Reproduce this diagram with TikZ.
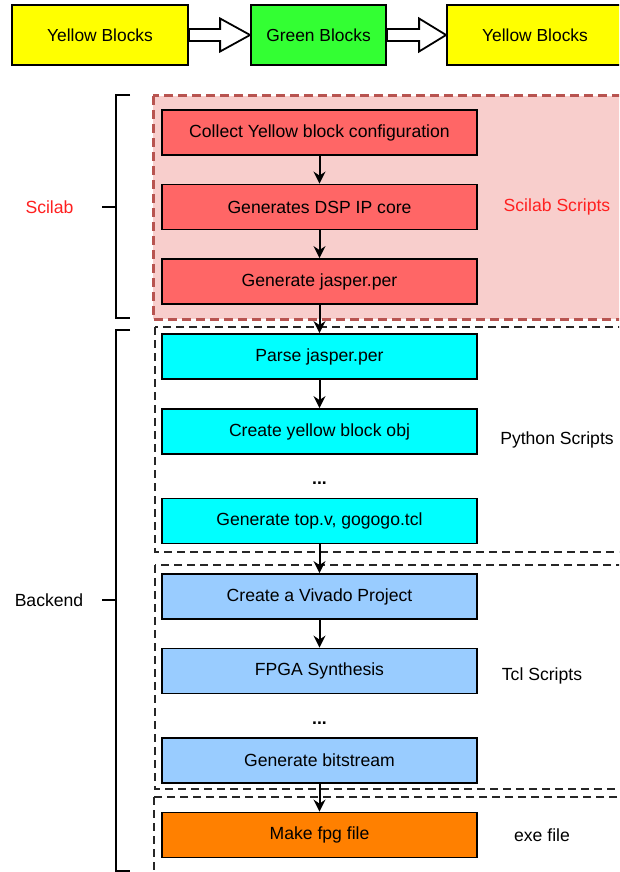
\documentclass[tikz,border=0pt]{standalone}
\usepackage{fontspec}
\setmainfont{Liberation Sans}
\usetikzlibrary{arrows.meta,calc}
\definecolor{cyel}{HTML}{FFFF00}
\definecolor{cgrn}{HTML}{33FF33}
\definecolor{cred}{HTML}{FF6666}
\definecolor{cpink}{HTML}{F8CECC}
\definecolor{cpinkline}{HTML}{B85450}
\definecolor{ccyan}{HTML}{00FFFF}
\definecolor{cblue}{HTML}{99CCFF}
\definecolor{corange}{HTML}{FF8000}
\definecolor{ctxtred}{HTML}{FF2020}
\tikzset{
  topbox/.style={draw=black, line width=1.8pt, minimum height=60pt, inner sep=0pt, font=\fontsize{17.4}{20}\selectfont},
  stepbox/.style={draw=black, line width=1.8pt, minimum width=315pt, minimum height=45pt, inner sep=0pt, font=\fontsize{17.6}{20}\selectfont},
  lbl/.style={inner sep=0pt, font=\fontsize{17.6}{20}\selectfont},
  dotlbl/.style={inner sep=0pt, font=\fontsize{17.6}{20}\selectfont\bfseries, anchor=base},
  flow/.style={line width=2pt, -{Stealth[length=12pt,width=12pt,inset=4pt]}},
  blockarrow/.style={draw=black, fill=white, line width=1.8pt, line join=miter},
  bracket/.style={line width=2.4pt, line join=miter},
  groupbox/.style={draw=black!85, line width=1.8pt, dash pattern=on 8pt off 5pt},
  redgroup/.style={draw=cpinkline, fill=cpink, line width=3pt, dash pattern=on 9pt off 5pt}
}
\begin{document}
\begin{tikzpicture}[x=1pt,y=-1pt]
\useasboundingbox (0,0) rectangle (619,872);
\clip (0,0) rectangle (619,872);
\fill[white] (0,0) rectangle (619,872);

% top row
\node[topbox, fill=cyel, minimum width=176pt] (y1) at (100,35) {Yellow Blocks};
\node[topbox, fill=cgrn, minimum width=135pt] (g1) at (318.5,35) {Green Blocks};
\node[topbox, fill=cyel, minimum width=176pt] (y2) at (535,35) {Yellow Blocks};

\draw[blockarrow] ($(y1.east)+(0,-6)$) -- ($(g1.west)+(-30,-6)$) -- ($(g1.west)+(-30,-16.5)$) -- (g1.west)
  -- ($(g1.west)+(-30,16.5)$) -- ($(g1.west)+(-30,6)$) -- ($(y1.east)+(0,6)$) -- cycle;
\draw[blockarrow] ($(g1.east)+(0,-6)$) -- ($(y2.west)+(-27,-6)$) -- ($(y2.west)+(-27,-16.5)$) -- (y2.west)
  -- ($(y2.west)+(-27,16.5)$) -- ($(y2.west)+(-27,6)$) -- ($(g1.east)+(0,6)$) -- cycle;

% group regions
\draw[redgroup] (153,96) rectangle (640,319);
\draw[groupbox] (155,327) rectangle (640,552);
\draw[groupbox] (155,565) rectangle (640,789);
\draw[groupbox] (154,797) rectangle (640,900);

% Scilab steps
\node[stepbox, fill=cred] (s1) at (319.5,132.5) {Collect Yellow block configuration};
\node[stepbox, fill=cred] (s2) at (319.5,207) {Generates DSP IP core};
\node[stepbox, fill=cred] (s3) at (319.5,281.5) {Generate jasper.per};
\node[lbl, text=ctxtred] (scs) at (557,207) {Scilab Scripts};

% Python steps
\node[stepbox, fill=ccyan] (p1) at (319.5,356.5) {Parse jasper.per};
\node[stepbox, fill=ccyan] (p2) at (319.5,431.5) {Create yellow block obj};
\node[dotlbl] (pd) at (319.5,484) {...};
\node[stepbox, fill=ccyan] (p3) at (319.5,521) {Generate top.v, gogogo.tcl};
\node[lbl] (pys) at (557,440) {Python Scripts};

% Tcl steps
\node[stepbox, fill=cblue] (t1) at (319.5,596.5) {Create a Vivado Project};
\node[stepbox, fill=cblue] (t2) at (319.5,671) {FPGA Synthesis};
\node[dotlbl] (td) at (319.5,724) {...};
\node[stepbox, fill=cblue] (t3) at (319.5,760.5) {Generate bitstream};
\node[lbl] (tcs) at (542,676) {Tcl Scripts};

% exe
\node[stepbox, fill=corange] (e1) at (319.5,835) {Make fpg file};
\node[lbl] (exs) at (542,835) {exe file};

% flow arrows
\draw[flow] (s1) -- (s2);
\draw[flow] (s2) -- (s3);
\draw[flow] (s3) -- (p1);
\draw[flow] (p1) -- (p2);
\draw[flow] (p3) -- (t1);
\draw[flow] (t1) -- (t2);
\draw[flow] (t3) -- (e1);

% brackets
\coordinate (sbt) at (130,95);
\coordinate (sbb) at (130,318);
\coordinate (sbm) at (116,207);
\node[lbl, text=ctxtred] (scl) at (49.5,207) {Scilab};
\draw[bracket] (sbt) -- (116,95) -- (116,318) -- (sbb);
\draw[bracket] (sbm) -- (102,207);

\coordinate (bbt) at (130,330);
\coordinate (bbb) at (130,871);
\coordinate (bbm) at (116,600);
\node[lbl] (bel) at (49,600) {Backend};
\draw[bracket] (bbt) -- (116,330) -- (116,871) -- (bbb);
\draw[bracket] (bbm) -- (102,600);
\end{tikzpicture}
\end{document}
